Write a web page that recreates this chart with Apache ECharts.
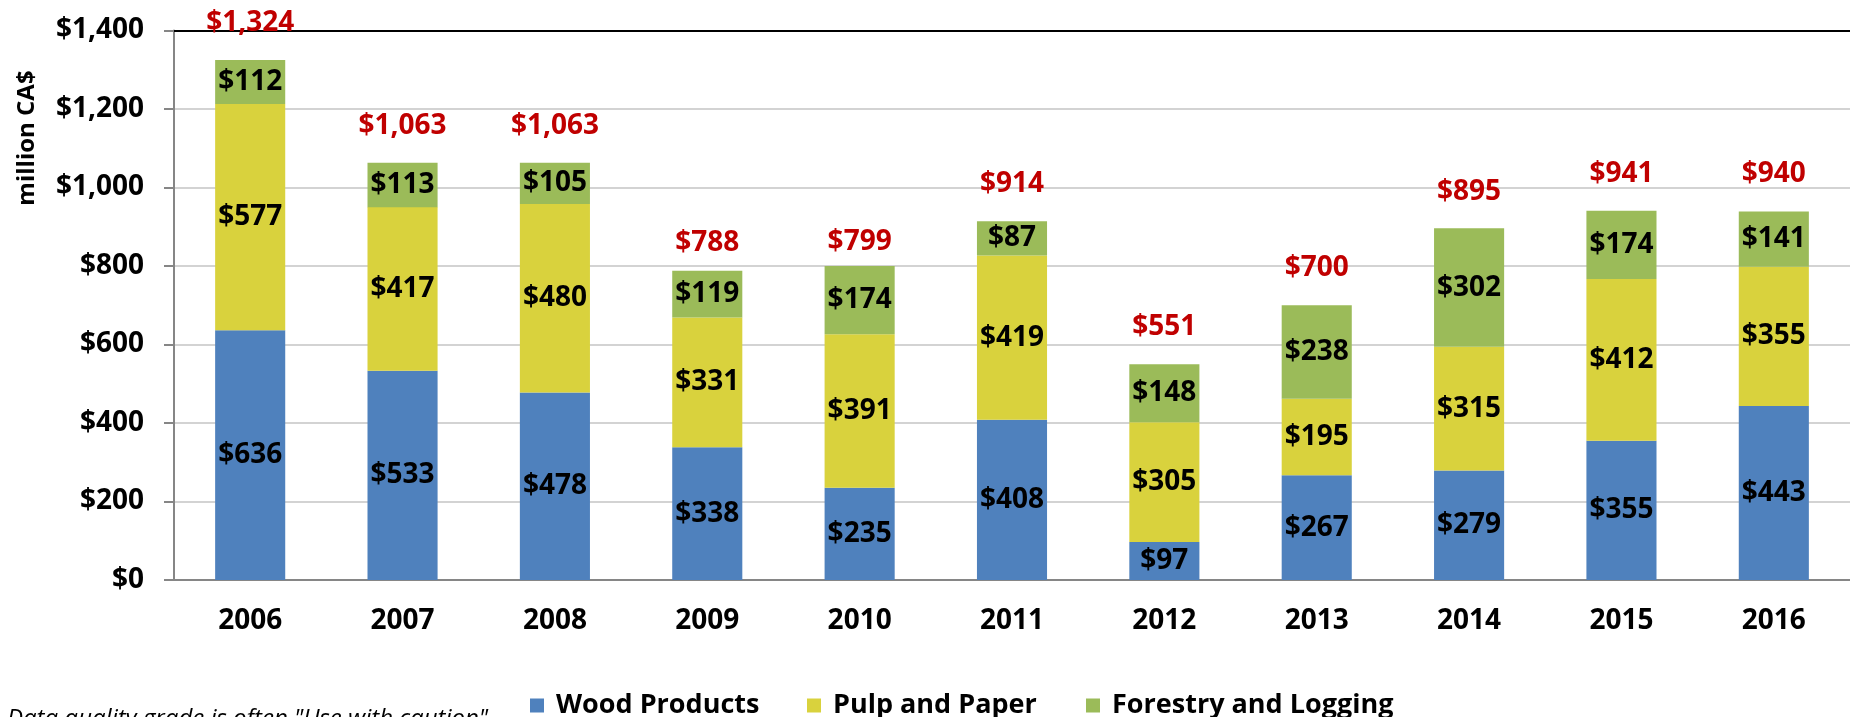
<!DOCTYPE html>
<html>
<head>
<meta charset="utf-8">
<script src="https://cdn.jsdelivr.net/npm/echarts@6/dist/echarts.min.js"></script>
<style>
  html, body { margin: 0; padding: 0; background: #fff; }
  #chart { width: 1850px; height: 717px; }
</style>
</head>
<body>
<div id="chart"></div>
<script>
// ---- data ----
const years = ['2006','2007','2008','2009','2010','2011','2012','2013','2014','2015','2016'];
const woodProducts = [636, 533, 478, 338, 235, 408, 97, 267, 279, 355, 443];
const pulpAndPaper = [577, 417, 480, 331, 391, 419, 305, 195, 315, 412, 355];
const forestryAndLogging = [112, 113, 105, 119, 174, 87, 148, 238, 302, 174, 141];
const totals = [1324, 1063, 1063, 788, 799, 914, 551, 700, 895, 941, 940];
const seriesNames = ['Wood Products', 'Pulp and Paper', 'Forestry and Logging'];
const yTicks = { min: 0, max: 1400, interval: 200 };
const footnote = 'Data quality grade is often "Use with caution"';
const yAxisTitle = 'million CA$';

// ---- style ----
const FONT = '"Open Sans", "Liberation Sans", sans-serif';
const colors = ['#4F81BD', '#D9D23D', '#9BBB59'];
const legendLefts = [525, 802, 1081];
const fmt = v => '$' + v.toLocaleString('en-US');

// per-category label lift for totals (in px above bar top)
const totalLift = years.map(y => (y === '2009' ? -28 : (y === '2010' ? -24 : -37)));

const chart = echarts.init(document.getElementById('chart'), null, { renderer: 'canvas' });

function barSeries(name, data, color) {
  return {
    name: name,
    type: 'bar',
    stack: 'total',
    data: data,
    barWidth: '46%',
    itemStyle: { color: color },
    label: {
      show: true,
      position: 'inside',
      formatter: p => fmt(p.value),
      color: '#000',
      fontFamily: FONT,
      fontWeight: 'bold',
      fontSize: 28
    },
    emphasis: { disabled: true }
  };
}

const legends = seriesNames.map((name, i) => ({
  left: legendLefts[i],
  top: 687,
  itemWidth: 14,
  itemHeight: 14,
  icon: 'rect',
  data: [name],
  textStyle: {
    fontFamily: FONT,
    fontWeight: 'bold',
    fontSize: 27,
    color: '#000',
    padding: [0, 0, 0, 7]
  }
}));

const option = {
  animation: false,
  backgroundColor: '#fff',
  grid: { left: 174, right: -11, top: 30.5, bottom: 137, containLabel: false },
  legend: legends,
  xAxis: [{
    type: 'category',
    data: years,
    axisLine: { show: true, lineStyle: { color: '#868686', width: 2 } },
    axisTick: { show: false },
    axisLabel: {
      margin: 27,
      color: '#000',
      fontFamily: FONT,
      fontWeight: 'bold',
      fontSize: 28
    }
  }, {
    type: 'category',
    data: years,
    position: 'top',
    axisLine: { show: true, lineStyle: { color: '#000', width: 2 } },
    axisTick: { show: false },
    axisLabel: { show: false }
  }],
  yAxis: {
    type: 'value',
    min: yTicks.min,
    max: yTicks.max,
    interval: yTicks.interval,
    axisLine: { show: true, lineStyle: { color: '#868686', width: 2 } },
    axisTick: { show: true, length: 10, lineStyle: { color: '#868686', width: 2 } },
    splitLine: { show: true, lineStyle: { color: '#c4c4c4', width: 1.5 } },
    axisLabel: {
      margin: 30,
      color: '#000',
      fontFamily: FONT,
      fontWeight: 'bold',
      fontSize: 28,
      formatter: v => fmt(v)
    }
  },
  series: [
    barSeries(seriesNames[0], woodProducts, colors[0]),
    barSeries(seriesNames[1], pulpAndPaper, colors[1]),
    barSeries(seriesNames[2], forestryAndLogging, colors[2]),
    {
      name: 'Total',
      type: 'line',
      data: totals.map((v, i) => ({
        value: v,
        label: { offset: [0, totalLift[i]] }
      })),
      symbol: 'circle',
      symbolSize: 1,
      itemStyle: { color: 'rgba(0,0,0,0)' },
      lineStyle: { width: 0, opacity: 0 },
      label: {
        show: true,
        position: 'inside',
        formatter: p => fmt(p.value),
        color: '#C00000',
        fontFamily: FONT,
        fontWeight: 'bold',
        fontSize: 28
      },
      emphasis: { disabled: true },
      z: 10
    }
  ],
  graphic: [
    {
      type: 'text',
      x: 27,
      y: 138,
      rotation: Math.PI / 2,
      style: {
        text: yAxisTitle,
        fill: '#000',
        font: 'bold 24px ' + FONT,
        align: 'center',
        verticalAlign: 'middle'
      }
    },
    {
      type: 'text',
      x: 7,
      y: 719,
      style: {
        text: footnote,
        fill: '#000',
        font: 'italic 24px ' + FONT,
        align: 'left',
        verticalAlign: 'middle'
      }
    }
  ]
};

chart.setOption(option);
</script>
</body>
</html>
